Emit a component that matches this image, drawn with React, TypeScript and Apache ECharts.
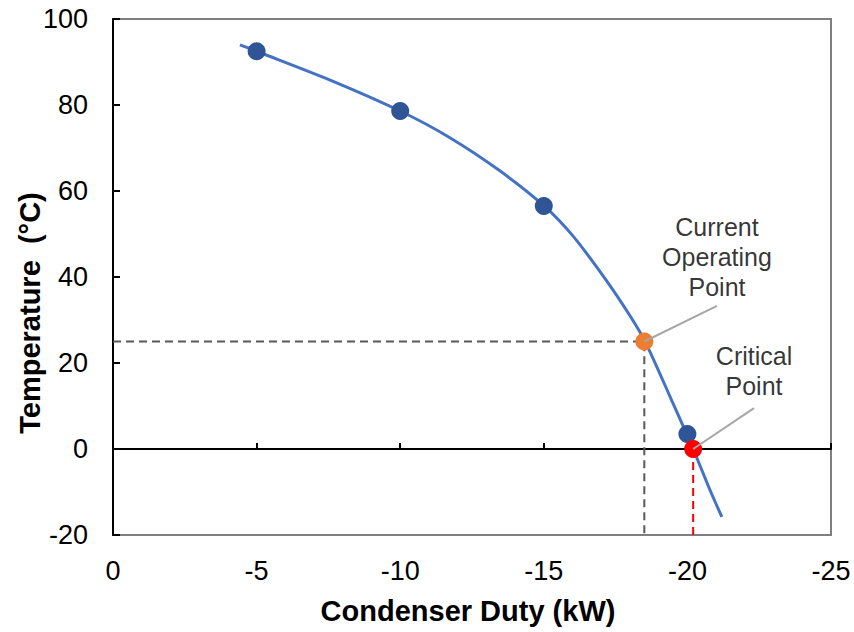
import React, { useEffect, useRef } from "react";
import * as echarts from "echarts";

// Smooth fitted curve (Condenser duty kW, Temperature °C)
const curveX = [-4.42, -5, -7.56, -10, -11.73, -13.47, -15, -16.02, -17.2, -18.0, -18.52, -19.46, -20.2, -20.79, -21.2];
const curveY = [94.0, 92.5, 85.8, 78.6, 72.4, 64.7, 56.6, 49.5, 39.0, 31.0, 25.1, 11.2, 0, -9.6, -15.8];

// Measured data points
const pointX = [-5, -10, -15, -20];
const pointY = [92.5, 78.6, 56.5, 3.5];

// Current operating point and critical point
const operating = [-18.5, 25];
const critical = [-20.2, 0];

// Axis ticks
const xTicks = [0, -5, -10, -15, -20, -25];
const yTicks = [-20, 0, 20, 40, 60, 80, 100];

// Annotation anchors (data coords)
const operatingLabelAt = [-21.03, 44.6];
const operatingLeaderEnd = [-21.03, 33.3];
const criticalLabelAt = [-22.32, 18.1];
const criticalLeaderEnd = [-22.32, 9.5];

const FONT = "'Liberation Sans', Arial, sans-serif";

export default function App() {
  const ref = useRef<HTMLDivElement>(null);
  useEffect(() => {
    if (!ref.current) return;
    const chart = echarts.init(ref.current, undefined, { renderer: "svg" });
    const xMin = Math.min(...xTicks);
    const xMax = Math.max(...xTicks);
    const yMin = Math.min(...yTicks);
    const yMax = Math.max(...yTicks);
    const curve = curveX.map((x, i) => [x, curveY[i]]);
    const pts = pointX.map((x, i) => [x, pointY[i]]);
    const dashed = { type: [8, 5] as any, width: 2 };
    chart.setOption({
      animation: false,
      textStyle: { fontFamily: FONT },
      grid: {
        left: 113,
        top: 19,
        right: 23,
        bottom: 97,
        show: true,
        borderColor: "#7f7f7f",
        borderWidth: 2,
        containLabel: false,
      },
      xAxis: [
        {
          type: "value",
          min: xMin,
          max: xMax,
          interval: 5,
          inverse: true,
          position: "bottom",
          axisLine: { show: false, onZero: false },
          axisTick: { show: false },
          splitLine: { show: false },
          axisLabel: { fontSize: 27, color: "#000", margin: 22, fontFamily: FONT },
        },
        {
          type: "value",
          min: xMin,
          max: xMax,
          interval: 5,
          inverse: true,
          position: "bottom",
          axisLine: { show: true, onZero: true, lineStyle: { color: "#000", width: 2 } },
          axisTick: { show: true, inside: true, length: 6, lineStyle: { color: "#000", width: 2 } },
          splitLine: { show: false },
          axisLabel: { show: false },
        },
      ],
      yAxis: {
        type: "value",
        min: yMin,
        max: yMax,
        interval: 20,
        axisLine: { show: true, onZero: false, lineStyle: { color: "#000", width: 2 } },
        axisTick: { show: true, inside: true, length: 7, lineStyle: { color: "#000", width: 2 } },
        splitLine: { show: false },
        axisLabel: { fontSize: 27, color: "#000", margin: 25, fontFamily: FONT },
      },
      series: [
        {
          type: "line",
          data: [[0, operating[1]], [operating[0], operating[1]], [operating[0], yMin]],
          symbol: "none",
          lineStyle: { ...dashed, color: "#595959" },
          z: 1,
        },
        {
          type: "line",
          data: [[critical[0], critical[1]], [critical[0], yMin]],
          symbol: "none",
          lineStyle: { ...dashed, color: "#ff0000" },
          z: 1,
        },
        {
          type: "line",
          data: curve,
          smooth: 0.3,
          showSymbol: false,
          symbol: "none",
          lineStyle: { color: "#4472c4", width: 3 },
          z: 2,
        },
        {
          type: "scatter",
          data: pts,
          symbolSize: 18,
          itemStyle: { color: "#2f5597", opacity: 1 },
          z: 3,
        },
        {
          type: "scatter",
          data: [operating],
          symbolSize: 18,
          itemStyle: { color: "#ed7d31", opacity: 1 },
          z: 3,
        },
        {
          type: "scatter",
          data: [critical],
          symbolSize: 18,
          itemStyle: { color: "#ff0000", opacity: 1 },
          z: 3,
        },
        {
          type: "line",
          data: [operating, operatingLeaderEnd],
          symbol: "none",
          lineStyle: { color: "#a6a6a6", width: 2 },
          z: 4,
        },
        {
          type: "line",
          data: [critical, criticalLeaderEnd],
          symbol: "none",
          lineStyle: { color: "#a6a6a6", width: 2 },
          z: 4,
        },
        {
          type: "scatter",
          symbolSize: 0,
          data: [
            { value: operatingLabelAt, label: { formatter: "Current\nOperating\nPoint" } },
            { value: criticalLabelAt, label: { formatter: "Critical\nPoint" } },
          ],
          label: {
            show: true,
            position: "inside",
            fontSize: 25,
            lineHeight: 30,
            color: "#000",
            align: "center",
            verticalAlign: "middle",
            fontFamily: FONT,
          },
          z: 5,
        },
      ],
      graphic: [
        {
          type: "text",
          x: 30,
          y: 313,
          rotation: Math.PI / 2,
          style: {
            text: "Temperature  (°C)",
            font: `bold 29px ${FONT}`,
            fill: "#000",
            textAlign: "center",
            textVerticalAlign: "middle",
          },
        },
        {
          type: "text",
          x: 468,
          y: 611,
          style: {
            text: "Condenser Duty (kW)",
            font: `bold 29px ${FONT}`,
            fill: "#000",
            textAlign: "center",
            textVerticalAlign: "middle",
          },
        },
      ],
    });
    return () => chart.dispose();
  }, []);
  return (
    <div
      ref={ref}
      style={{ position: "absolute", left: 0, top: 0, width: 854, height: 632, background: "#fff" }}
    />
  );
}
